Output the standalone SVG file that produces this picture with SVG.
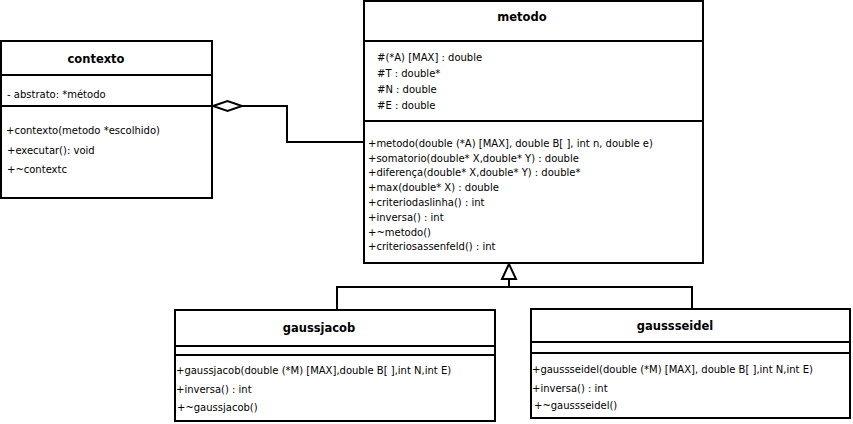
<svg xmlns="http://www.w3.org/2000/svg" width="853" height="424" viewBox="0 0 853 424">
<style>
.box{fill:#fff;stroke:#000;stroke-width:2}
.ln{fill:none;stroke:#000;stroke-width:2}
.t{font-family:"DejaVu Sans",sans-serif;font-size:11.5px;font-weight:bold;text-anchor:middle;fill:#000}
.m{font-family:"DejaVu Sans",sans-serif;font-size:10px;fill:#000}
</style>
<rect width="853" height="424" fill="#fff"/>
<g id="connectors">
<polyline class="ln" points="242,106 287,106 287,142 364,142"/>
<polygon points="213,106 227.5,101 242,106 227.5,111" fill="#fff" stroke="#000" stroke-width="2"/>
<polyline class="ln" points="337,310 337,287 692,287 692,309"/>
<line class="ln" x1="509" y1="279" x2="509" y2="287"/>
<polygon points="509,264 502,279 516,279" fill="#fff" stroke="#000" stroke-width="2"/>
</g>
<g id="contexto">
<rect class="box" x="1" y="41" width="211" height="157"/>
<line class="ln" x1="1" y1="75" x2="212" y2="75"/>
<line class="ln" x1="1" y1="106" x2="212" y2="106"/>
<text class="t" x="96" y="63">contexto</text>
<text class="m" x="7" y="98">- abstrato: *método</text>
<text class="m" x="6" y="134">+contexto(metodo *escolhido)</text>
<text class="m" x="7" y="154">+executar(): void</text>
<text class="m" x="7" y="173">+~contextc</text>
</g>
<g id="metodo">
<rect class="box" x="364" y="1" width="339" height="262"/>
<line class="ln" x1="364" y1="41" x2="703" y2="41"/>
<line class="ln" x1="364" y1="121" x2="703" y2="121"/>
<text class="t" x="522" y="21">metodo</text>
<text class="m" x="377" y="61">#(*A) [MAX] : double</text>
<text class="m" x="377" y="77">#T : double*</text>
<text class="m" x="377" y="93">#N : double</text>
<text class="m" x="377" y="109">#E : double</text>
<text class="m" x="368" y="147">+metodo(double (*A) [MAX], double B[ ], int n, double e)</text>
<text class="m" x="368" y="162">+somatorio(double* X,double* Y) : double</text>
<text class="m" x="368" y="176">+diferença(double* X,double* Y) : double*</text>
<text class="m" x="368" y="191">+max(double* X) : double</text>
<text class="m" x="368" y="206">+criteriodaslinha() : int</text>
<text class="m" x="368" y="221">+inversa() : int</text>
<text class="m" x="368" y="236">+~metodo()</text>
<text class="m" x="368" y="250">+criteriosassenfeld() : int</text>
</g>
<g id="gaussjacob">
<rect class="box" x="175" y="310" width="320" height="111"/>
<line class="ln" x1="175" y1="346" x2="495" y2="346"/>
<line class="ln" x1="175" y1="355" x2="495" y2="355"/>
<text class="t" x="319" y="332">gaussjacob</text>
<text class="m" x="176" y="374">+gaussjacob(double (*M) [MAX],double B[ ],int N,int E)</text>
<text class="m" x="176" y="393">+inversa() : int</text>
<text class="m" x="177" y="411">+~gaussjacob()</text>
</g>
<g id="gaussseidel">
<rect class="box" x="531" y="309" width="319" height="109"/>
<line class="ln" x1="531" y1="342" x2="850" y2="342"/>
<line class="ln" x1="531" y1="353" x2="850" y2="353"/>
<text class="t" x="675" y="330">gaussseidel</text>
<text class="m" x="532" y="373">+gaussseidel(double (*M) [MAX], double B[ ],int N,int E)</text>
<text class="m" x="532" y="392">+inversa() : int</text>
<text class="m" x="534" y="409">+~gaussseidel()</text>
</g>
</svg>
